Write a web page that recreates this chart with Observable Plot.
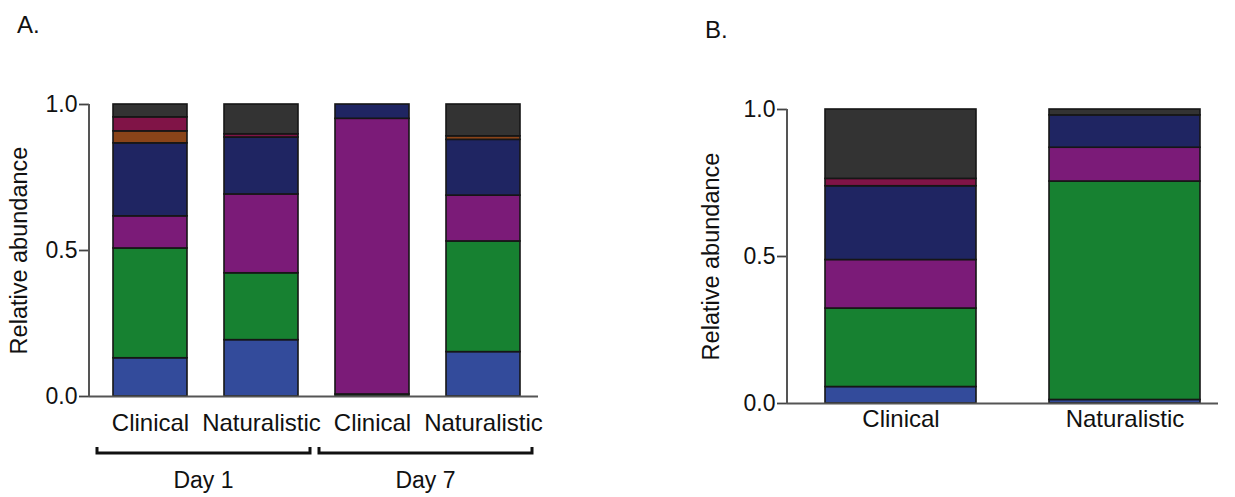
<!DOCTYPE html>
<html>
<head>
<meta charset="utf-8">
<script src="https://cdn.jsdelivr.net/npm/d3@7"></script>
<script src="https://cdn.jsdelivr.net/npm/@observablehq/plot@0.6"></script>
<style>
  html, body { margin: 0; padding: 0; background: #fff; }
  #wrap { position: relative; width: 1235px; height: 497px; overflow: hidden; font-family: "Liberation Sans", Arial, sans-serif; }
  #wrap svg { position: absolute; top: 0; overflow: visible; }
</style>
</head>
<body>
<div id="wrap"></div>
<script>
// ---- data ----
const taxa = ["Taxon 1", "Taxon 2", "Taxon 3", "Taxon 4", "Taxon 5", "Taxon 6", "Other"];
const taxonColors = ["#334b9b", "#178131", "#7b1b78", "#1f2562", "#8a4419", "#801447", "#333333"];

// Panel A (stack order bottom -> top follows taxa)
const panelABars = ["Day 1|Clinical", "Day 1|Naturalistic", "Day 7|Clinical", "Day 7|Naturalistic"];
const day1Clinical     = [0.131, 0.376, 0.110, 0.250, 0.041, 0.048, 0.044];
const day1Naturalistic = [0.193, 0.229, 0.270, 0.195, 0.000, 0.011, 0.102];
const day7Clinical     = [0.000, 0.007, 0.944, 0.049, 0.000, 0.000, 0.000];
const day7Naturalistic = [0.152, 0.379, 0.157, 0.191, 0.012, 0.000, 0.109];
const dayGroups = ["Day 1", "Day 7"];

// Panel B
const panelBBars = ["Clinical", "Naturalistic"];
const bClinical     = [0.056, 0.267, 0.165, 0.251, 0.000, 0.025, 0.236];
const bNaturalistic = [0.012, 0.743, 0.115, 0.110, 0.000, 0.000, 0.020];

const yTicks = [0, 0.5, 1];
const yTitle = "Relative abundance";

// ---- helpers ----
function toRows(bars, valueLists) {
  const rows = [];
  bars.forEach((bar, i) => {
    taxa.forEach((t, j) => {
      const v = valueLists[i][j];
      if (v > 0) rows.push({bar, taxon: t, value: v});
    });
  });
  return rows;
}
const rowsA = toRows(panelABars, [day1Clinical, day1Naturalistic, day7Clinical, day7Naturalistic]);
const rowsB = toRows(panelBBars, [bClinical, bNaturalistic]);

const FONT = "'Liberation Sans', Arial, Helvetica, sans-serif";
const wrap = document.getElementById("wrap");

function makePanel({rows, bars, width, marginLeft, marginRight, marginTop, marginBottom, paddingInner, paddingOuter, align, tickFormat, xPad, titleDx}) {
  const chart = Plot.plot({
    width, height: 497,
    marginLeft, marginRight, marginTop, marginBottom,
    style: {fontFamily: FONT, fontSize: "23px", color: "#111", background: "transparent", overflow: "visible"},
    x: {domain: bars, type: "band", paddingInner, paddingOuter, align, label: null},
    y: {domain: [0, 1], label: null},
    color: {domain: taxa, range: taxonColors},
    marks: [
      Plot.barY(rows, {x: "bar", y: "value", fill: "taxon", order: taxa, stroke: "#161616", strokeWidth: 1.6}),
      Plot.ruleY([0], {stroke: "#555", strokeWidth: 2}),
      Plot.axisY({ticks: yTicks, tickFormat: d => d.toFixed(1), tickSize: 10, tickPadding: 2, stroke: "#444", strokeWidth: 1.8, fontSize: 23, label: null, color: "#111"}),
      Plot.axisX({tickSize: 0, tickPadding: xPad, tickFormat, fontSize: 24, label: null, color: "#111"}),
      Plot.text([yTitle], {frameAnchor: "left", text: d => d, rotate: -90, textAnchor: "middle", dx: titleDx, fontSize: 23.5, fill: "#111"})
    ]
  });
  // vertical axis line from 0 to 1, positioned through the plot's y scale
  const ys = chart.scale("y");
  d3.select(chart).append("line")
    .attr("x1", marginLeft).attr("x2", marginLeft)
    .attr("y1", ys.apply(0) + 1).attr("y2", ys.apply(1))
    .attr("stroke", "#555").attr("stroke-width", 2);
  return chart;
}

// Panel A
const chartA = makePanel({
  rows: rowsA, bars: panelABars, width: 560,
  marginLeft: 89, marginRight: 22, marginTop: 104, marginBottom: 101,
  paddingInner: 0.335, paddingOuter: 0.1845, align: 0.56,
  tickFormat: d => d.split("|")[1], xPad: 17, titleDx: -70
});
chartA.style.left = "0px";
wrap.appendChild(chartA);

// Panel B
const chartB = makePanel({
  rows: rowsB, bars: panelBBars, width: 635,
  marginLeft: 187, marginRight: 17, marginTop: 109, marginBottom: 94,
  paddingInner: 0.327, paddingOuter: 0.1225, align: 0.68,
  tickFormat: d => d, xPad: 6, titleDx: -76
});
chartB.style.left = "600px";
wrap.appendChild(chartB);

// Brackets and day labels under panel A, positioned with the plot's x scale
const xs = chartA.scale("x");
const svgA = d3.select(chartA);
const gA = svgA.append("g");
dayGroups.forEach(day => {
  const members = panelABars.filter(b => b.startsWith(day + "|"));
  const x0 = xs.apply(members[0]) - 16;
  const x1 = xs.apply(members[members.length - 1]) + xs.bandwidth + 12;
  const yb = 453;
  gA.append("path")
    .attr("d", `M${x0},${yb - 6}V${yb}H${x1}V${yb - 6}`)
    .attr("fill", "none").attr("stroke", "#111").attr("stroke-width", 3);
  gA.append("text")
    .attr("x", (x0 + x1) / 2).attr("y", 488)
    .attr("text-anchor", "middle")
    .attr("font-size", 23).attr("font-family", FONT).attr("fill", "#111")
    .text(day);
});
gA.append("text").attr("x", 17).attr("y", 33).attr("text-anchor", "start").attr("font-size", 24).attr("font-family", FONT).attr("fill", "#111").text("A.");
d3.select(chartB).append("text").attr("x", 105).attr("y", 38).attr("text-anchor", "start").attr("font-size", 24).attr("font-family", FONT).attr("fill", "#111").text("B.");
</script>
</body>
</html>
